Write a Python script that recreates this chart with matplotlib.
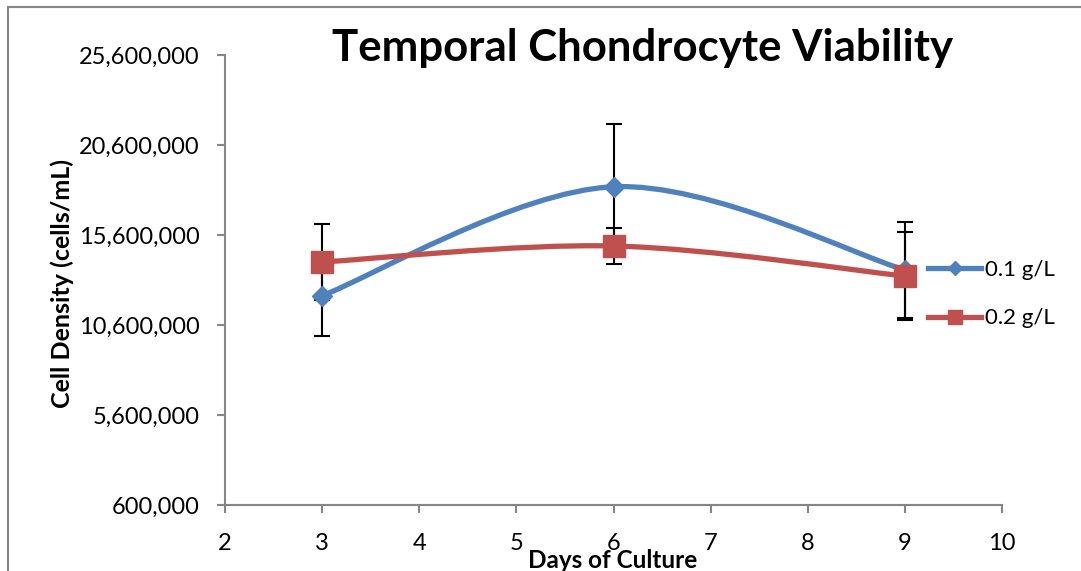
import numpy as np
import matplotlib
matplotlib.use("Agg")
import matplotlib.pyplot as plt
from matplotlib.path import Path
from matplotlib.patches import PathPatch, Rectangle
from matplotlib.lines import Line2D
from matplotlib.ticker import FuncFormatter

days = [3, 6, 9]
low_conc = [12230000, 18280000, 13660000]
low_err = [2220000, 3470000, 2650000]
high_conc = [14100000, 14990000, 13320000]
high_err = [2100000, 1000000, 2450000]
series_labels = ["0.1 g/L", "0.2 g/L"]

BLUE = "#4F81BD"
RED = "#C0504D"
GRID = "#868686"

plt.rcParams["font.family"] = ["Lato", "DejaVu Sans"]


def smooth_path(xs, ys):
    # excel style smoothed line: cubic bezier through the points
    pts = np.column_stack([xs, ys]).astype(float)
    n = len(pts)
    verts = [pts[0]]
    codes = [Path.MOVETO]
    for i in range(n - 1):
        p0 = pts[max(i - 1, 0)]
        p1 = pts[i]
        p2 = pts[i + 1]
        p3 = pts[min(i + 2, n - 1)]
        verts += [p1 + (p2 - p0) / 6, p2 - (p3 - p1) / 6, p2]
        codes += [Path.CURVE4] * 3
    return Path(verts, codes)


W, H = 1081, 571
fig = plt.figure(figsize=(W / 100, H / 100), dpi=100)
ax = fig.add_axes([225 / W, 1 - 505 / H, 777 / W, 450 / H])

# chart frame
fig.patches.append(Rectangle((8 / W, -0.1), 1.2, 1.1 - 7 / H, transform=fig.transFigure,
                             fill=False, edgecolor=GRID, linewidth=1.5))

ax.errorbar(days, low_conc, yerr=low_err, fmt="none", ecolor="black",
            elinewidth=1.5, capsize=6, capthick=1.5, zorder=2)
ax.errorbar(days, high_conc, yerr=high_err, fmt="none", ecolor="black",
            elinewidth=1.5, capsize=6, capthick=1.5, zorder=2)

ax.add_patch(PathPatch(smooth_path(days, low_conc), fill=False, edgecolor=BLUE,
                       linewidth=3.8, capstyle="round", zorder=3))
ax.plot(days, low_conc, ls="none", marker="D", ms=10, color=BLUE, zorder=4)
ax.add_patch(PathPatch(smooth_path(days, high_conc), fill=False, edgecolor=RED,
                       linewidth=3.8, capstyle="round", zorder=5))
ax.plot(days, high_conc, ls="none", marker="s", ms=15.5, color=RED, zorder=6)

ax.set_xlim(2, 10)
ax.set_ylim(600000, 25600000)
ax.set_xticks(range(2, 11))
ax.set_yticks(np.arange(600000, 25600001, 5000000))
ax.yaxis.set_major_formatter(FuncFormatter(lambda v, p: f"{int(round(v)):,}"))

for s in ["top", "right"]:
    ax.spines[s].set_visible(False)
for s in ["left", "bottom"]:
    ax.spines[s].set_color(GRID)
    ax.spines[s].set_linewidth(1.5)
ax.tick_params(axis="both", direction="out", length=6, width=1.5, color=GRID,
               labelsize=17)
ax.tick_params(axis="x", pad=14)
ax.tick_params(axis="y", pad=12)

fig.text(643 / W, 1 - 48 / H, "Temporal Chondrocyte Viability", ha="center",
         va="center", fontsize=31.5, fontweight="bold")
fig.text(62 / W, 1 - 283 / H, "Cell Density (cells/mL)", ha="center", va="center",
         rotation=90, fontsize=18, fontweight="bold")
fig.text(613 / W, 1 - 560 / H, "Days of Culture", ha="center", va="center",
         fontsize=17.5, fontweight="bold")

handles = [
    Line2D([], [], color=BLUE, lw=3.8, marker="D", ms=7),
    Line2D([], [], color=RED, lw=3.8, marker="s", ms=10),
]
ax.legend(handles, series_labels, loc="center left", frameon=False,
          bbox_to_anchor=(928 / W, 1 - 294 / H), bbox_transform=fig.transFigure,
          fontsize=16, handlelength=2.4, handletextpad=0.15, labelspacing=1.3,
          borderaxespad=0, borderpad=0)

fig.savefig("out.png", dpi=100)
